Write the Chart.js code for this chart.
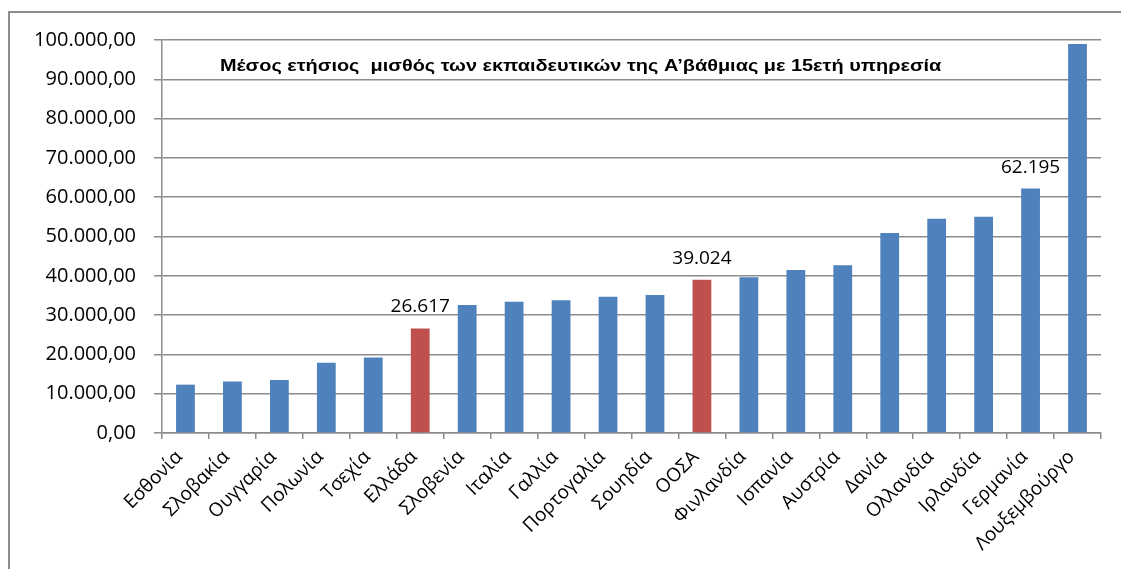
<!DOCTYPE html>
<html>
<head>
<meta charset="utf-8">
<script src="https://cdn.jsdelivr.net/npm/chart.js@4/dist/chart.umd.min.js"></script>
<style>
  html, body { margin: 0; padding: 0; background: #fff; overflow: hidden; }
  #frame { position: absolute; left: 8px; top: 11px; width: 1300px; height: 800px; border: 2px solid #8c8c8c; box-sizing: border-box; }
  #wrap { position: absolute; left: 0; top: 0; width: 1121px; height: 569px; }
</style>
</head>
<body>
<div id="frame"></div>
<div id="wrap"><canvas id="c" width="1121" height="569"></canvas></div>
<script>
const categories = ['Εσθονία','Σλοβακία','Ουγγαρία','Πολωνία','Τσεχία','Ελλάδα','Σλοβενία','Ιταλία','Γαλλία','Πορτογαλία','Σουηδία','ΟΟΣΑ','Φινλανδία','Ισπανία','Αυστρία','Δανία','Ολλανδία','Ιρλανδία','Γερμανία','Λουξεμβούργο'];
const salaries = [12300,13100,13500,17900,19200,26617,32600,33400,33800,34700,35100,39024,39600,41500,42700,50900,54500,55000,62195,99000];
const highlighted = ['Ελλάδα','ΟΟΣΑ'];
const labelledBars = ['Ελλάδα','ΟΟΣΑ','Γερμανία'];
const titleText = 'Μέσος ετήσιος  μισθός των εκπαιδευτικών της Α’βάθμιας με 15ετή υπηρεσία';
const yMax = 100000;
const yStep = 10000;

function groupThousands(n) {
  return String(Math.round(n)).replace(/\B(?=(\d{3})+(?!\d))/g, '.');
}
function fmtTick(v) { return groupThousands(v) + ',00'; }

const BLUE = '#4F81BD', RED = '#C0504D', GRID = '#8c8c8c';

const overlay = {
  id: 'overlay',
  afterDatasetsDraw(chart) {
    const ctx = chart.ctx;
    const ca = chart.chartArea;
    ctx.save();
    ctx.fillStyle = '#000';
    ctx.font = 'bold 16px "Liberation Sans", Arial, sans-serif';
    ctx.textAlign = 'left';
    ctx.textBaseline = 'alphabetic';
    ctx.save();
    ctx.translate(ca.left + 58, ca.top + 31);
    ctx.scale(1.245, 1);
    ctx.fillText(titleText, 0, 0);
    ctx.restore();
    const meta = chart.getDatasetMeta(0);
    ctx.font = '19px "Open Sans", sans-serif';
    ctx.textAlign = 'center';
    categories.forEach((c, i) => {
      if (!labelledBars.includes(c)) return;
      const el = meta.data[i];
      ctx.fillText(groupThousands(salaries[i]), el.x, el.y - 16);
    });
    ctx.restore();
  }
};

new Chart(document.getElementById('c'), {
  type: 'bar',
  data: {
    labels: categories,
    datasets: [{
      data: salaries,
      backgroundColor: categories.map(c => highlighted.includes(c) ? RED : BLUE),
      borderWidth: 0,
      categoryPercentage: 1,
      barPercentage: 0.4
    }]
  },
  options: {
    responsive: false,
    animation: false,
    devicePixelRatio: 1,
    layout: { padding: { left: 0, right: 20, top: 40, bottom: 0 } },
    plugins: { legend: { display: false }, tooltip: { enabled: false }, title: { display: false } },
    scales: {
      x: {
        afterFit: s => { s.height = 136; },
        grid: { display: true, drawOnChartArea: false, drawTicks: true, tickLength: 6, color: GRID, lineWidth: 1.5, offset: true },
        border: { display: true, color: GRID, width: 1.5 },
        ticks: { color: '#000', autoSkip: false, maxRotation: 45, minRotation: 45, padding: 7, labelOffset: -6, font: { family: '"Open Sans", sans-serif', size: 19 } }
      },
      y: {
        min: 0, max: yMax,
        afterFit: s => { s.width = 162; },
        grid: { color: GRID, lineWidth: 1.5, drawTicks: true, tickLength: 8 },
        border: { display: true, color: GRID, width: 1.5 },
        ticks: { stepSize: yStep, color: '#000', padding: 18, callback: v => fmtTick(v), font: { family: '"Open Sans", sans-serif', size: 20 } }
      }
    }
  },
  plugins: [overlay]
});
</script>
</body>
</html>
